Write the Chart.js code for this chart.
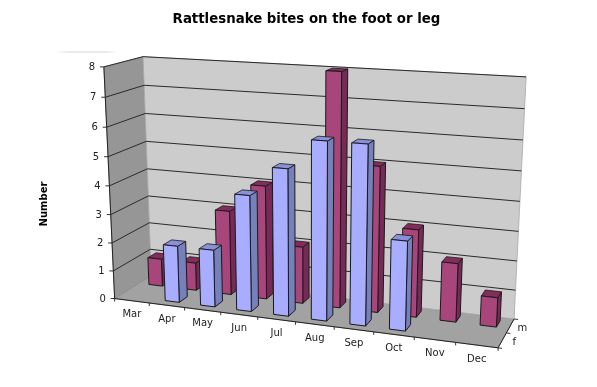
<!DOCTYPE html>
<html>
<head>
<meta charset="utf-8">
<title>Rattlesnake bites</title>
<script src="https://cdn.jsdelivr.net/npm/chart.js@4"></script>
<style>
  body { margin: 0; background: #fff; }
  canvas { display: block; }
</style>
</head>
<body>
<canvas id="bites" width="597" height="387"></canvas>
<script>
const months = ['Mar', 'Apr', 'May', 'Jun', 'Jul', 'Aug', 'Sep', 'Oct', 'Nov', 'Dec'];
const maleBites = [1, 1, 3, 4, 2, 8, 5, 3, 2, 1];
const femaleBites = [0, 2, 2, 4, 5, 6, 6, 3, 0, 0];
const seriesNames = ['f', 'm'];
const yMax = 8;

const FONT = '"DejaVu Sans", Verdana, sans-serif';

// where the box of the 3D chart lands on the page: [u, d, w, px, py]
// u along months (0-1), d into the page (0-1), w up (0-1)
const calibration = [
  [0, 0, 0, 115.5, 298], [1, 0, 0, 498, 349], [0, 1, 0, 151, 277], [1, 1, 0, 514, 317],
  [0, 0, 1, 104, 67], [0, 1, 1, 143, 57], [1, 1, 1, 526, 77],
  [0.5, 0, 0, 295, 322], [0, 0, 0.5, 109, 185], [0, 1, 0.5, 147.3, 168], [1, 1, 0.5, 520.5, 202]
];

function solve(A, b) {
  const n = b.length;
  const m = A.map((row, i) => [...row, b[i]]);
  for (let i = 0; i < n; i++) {
    let p = i;
    for (let r = i + 1; r < n; r++) if (Math.abs(m[r][i]) > Math.abs(m[p][i])) p = r;
    [m[i], m[p]] = [m[p], m[i]];
    for (let r = 0; r < n; r++) {
      if (r === i) continue;
      const f = m[r][i] / m[i][i];
      for (let c = i; c <= n; c++) m[r][c] -= f * m[i][c];
    }
  }
  return m.map((row, i) => row[n] / row[i]);
}

// least squares fit of the perspective matrix
function fitProjection(points) {
  const rows = [], rhs = [];
  points.forEach(([u, d, w, x, y]) => {
    rows.push([1, u, d, w, 0, 0, 0, 0, -x * u, -x * d, -x * w]); rhs.push(x);
    rows.push([0, 0, 0, 0, 1, u, d, w, -y * u, -y * d, -y * w]); rhs.push(y);
  });
  const N = 11;
  const AtA = Array.from({ length: N }, (_, i) =>
    Array.from({ length: N }, (_, j) => rows.reduce((s, r) => s + r[i] * r[j], 0)));
  const Atb = Array.from({ length: N }, (_, i) => rows.reduce((s, r, k) => s + r[i] * rhs[k], 0));
  return solve(AtA, Atb);
}

const P = fitProjection(calibration);
function project(u, d, w) {
  const h = 1 + P[8] * u + P[9] * d + P[10] * w;
  return [(P[0] + P[1] * u + P[2] * d + P[3] * w) / h, (P[4] + P[5] * u + P[6] * d + P[7] * w) / h];
}

function poly(ctx, pts, fill, stroke, lw) {
  ctx.beginPath();
  pts.forEach((p, i) => (i ? ctx.lineTo(p[0], p[1]) : ctx.moveTo(p[0], p[1])));
  ctx.closePath();
  if (fill) { ctx.fillStyle = fill; ctx.fill(); }
  if (stroke) { ctx.strokeStyle = stroke; ctx.lineWidth = lw || 1; ctx.stroke(); }
}

function line(ctx, a, b, color, lw) {
  ctx.beginPath();
  ctx.moveTo(a[0], a[1]);
  ctx.lineTo(b[0], b[1]);
  ctx.strokeStyle = color;
  ctx.lineWidth = lw;
  ctx.stroke();
}

const barColors = [
  { front: '#a8adff', side: '#7680bb', top: '#8790d8' }, // f
  { front: '#a8457a', side: '#772a58', top: '#842c5c' }  // m
];
// how far the bar faces sit from the middle of a series row, in box depth
const frontOffset = 0.1;
const backOffset = 0.13;

const box3d = {
  id: 'box3d',
  beforeDatasetsDraw(chart) {
    const ctx = chart.ctx;
    const yScale = chart.scales.y;
    const xScale = chart.scales.x;
    const area = chart.chartArea;
    const wOf = v => v / yScale.max;

    // little shadow left of the title, it is in the original too
    const shade = ctx.createLinearGradient(56, 0, 118, 0);
    shade.addColorStop(0, 'rgba(200,200,200,0)');
    shade.addColorStop(0.2, 'rgba(200,200,200,0.8)');
    shade.addColorStop(0.8, 'rgba(200,200,200,0.8)');
    shade.addColorStop(1, 'rgba(200,200,200,0)');
    line(ctx, [56, 52], [118, 52], shade, 1);

    // walls and floor
    poly(ctx, [project(0, 0, 0), project(1, 0, 0), project(1, 1, 0), project(0, 1, 0)], '#a2a2a2', '#8a8a8a', 0.8);
    poly(ctx, [project(0, 0, 0), project(0, 1, 0), project(0, 1, 1), project(0, 0, 1)], '#969696', '#8a8a8a', 0.8);
    poly(ctx, [project(0, 1, 0), project(1, 1, 0), project(1, 1, 1), project(0, 1, 1)], '#cccccc', '#a8a8a8', 0.8);

    // value gridlines and tick labels
    ctx.font = '10px ' + FONT;
    ctx.textAlign = 'center';
    ctx.textBaseline = 'middle';
    yScale.ticks.forEach(t => {
      const w = wOf(t.value);
      const a = project(0, 0, w), b = project(0, 1, w), c = project(1, 1, w);
      if (t.value > 0) {
        line(ctx, a, b, '#2a2a2a', 1);
        line(ctx, b, c, '#2a2a2a', 1);
      }
      line(ctx, [a[0] - 4, a[1]], a, '#333', 1);
      ctx.fillStyle = '#222';
      ctx.fillText(String(t.value), a[0] - 12, a[1] + 0.5);
    });
    line(ctx, project(0, 0, 0), project(0, 0, 1), '#222', 1);

    // front edge of the floor, month ticks and labels
    line(ctx, project(0, 0, 0), project(1, 0, 0), '#222', 1);
    line(ctx, project(1, 0, 0), project(1, 1, 0), '#222', 1);
    months.forEach((m, i) => {
      const t = project(i / months.length, 0, 0);
      line(ctx, t, [t[0], t[1] + 3], '#333', 1);
      const mid = project((i + 0.5) / months.length, 0, 0);
      ctx.fillStyle = '#222';
      ctx.fillText(xScale.getLabelForValue(i), mid[0], mid[1] + 14);
    });
    const end = project(1, 0, 0);
    line(ctx, end, [end[0], end[1] + 3], '#333', 1);

    // series ticks and labels on the right edge
    seriesNames.concat('').forEach((s, i) => {
      const t = project(1, i / seriesNames.length, 0);
      line(ctx, t, [t[0] + 4, t[1] + 0.5], '#333', 1);
      if (!s) return;
      const p = project(1, (i + 0.5) / seriesNames.length, 0);
      ctx.fillStyle = '#222';
      ctx.fillText(s, p[0] + 12, p[1] + 2.5);
    });

    // axis title
    ctx.save();
    ctx.translate(44, 204);
    ctx.rotate(-Math.PI / 2);
    ctx.font = 'bold 10px ' + FONT;
    ctx.fillStyle = '#000';
    ctx.fillText('Number', 0, 0);
    ctx.restore();

    // the bars: take the elements Chart.js laid out on its own scales, back row first
    [1, 0].forEach(row => {
      const els = chart.getDatasetMeta(row).data;
      const col = barColors[row];
      const dMid = (row + 0.5) / seriesNames.length;
      els.forEach(el => {
        const value = yScale.getValueForPixel(el.y);
        if (value <= 0.001) return;
        const u0 = (el.x - el.width / 2 - area.left) / area.width;
        const u1 = (el.x + el.width / 2 - area.left) / area.width;
        const d0 = dMid - frontOffset, d1 = dMid + backOffset;
        const w = wOf(value);
        const outline = '#1a1a1a';
        poly(ctx, [project(u1, d0, 0), project(u1, d1, 0), project(u1, d1, w), project(u1, d0, w)], col.side, outline, 1);
        poly(ctx, [project(u0, d0, w), project(u1, d0, w), project(u1, d1, w), project(u0, d1, w)], col.top, outline, 0.8);
        poly(ctx, [project(u0, d0, 0), project(u1, d0, 0), project(u1, d0, w), project(u0, d0, w)], col.front, outline, 1);
      });
    });
  }
};

new Chart(document.getElementById('bites').getContext('2d'), {
  type: 'bar',
  data: {
    labels: months,
    datasets: [
      // bars are painted by box3d in perspective, the flat ones stay invisible
      { label: seriesNames[0], data: femaleBites, backgroundColor: 'transparent', grouped: false, barPercentage: 0.4, categoryPercentage: 1 },
      { label: seriesNames[1], data: maleBites, backgroundColor: 'transparent', grouped: false, barPercentage: 0.4, categoryPercentage: 1 }
    ]
  },
  options: {
    responsive: false,
    animation: false,
    layout: { padding: { left: 16 } },
    scales: {
      x: { display: false },
      y: { display: false, min: 0, max: yMax, ticks: { stepSize: 1 } }
    },
    plugins: {
      legend: { display: false },
      tooltip: { enabled: false },
      title: {
        display: true,
        text: 'Rattlesnake bites on the foot or leg',
        color: '#000',
        font: { family: FONT, size: 13.33, weight: 'bold' },
        padding: { top: 12, bottom: 8 }
      }
    }
  },
  plugins: [box3d]
});
</script>
</body>
</html>
